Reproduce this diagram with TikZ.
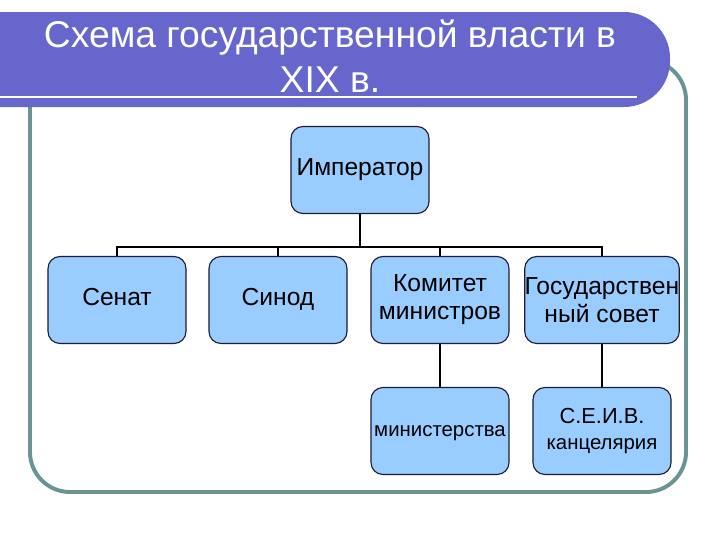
\documentclass[tikz,border=0pt]{standalone}
\usepackage{fontspec}
\setmainfont{Liberation Sans}
\usepackage{xcolor}
\usetikzlibrary{positioning}
\definecolor{barblue}{HTML}{6666CC}
\definecolor{boxblue}{HTML}{99CCFF}
\definecolor{boxline}{HTML}{1C1C38}
\definecolor{frameteal}{HTML}{6A9494}
\tikzset{
  font=\fontsize{17.5}{20}\selectfont,         % body text, Arial-like
  orgbox/.style   = {rectangle, draw=boxline, fill=boxblue, line width=0.8pt,
                     rounded corners=0.3cm, minimum width=3.45cm,
                     minimum height=2.175cm, inner sep=0pt, align=center},
  small/.style    = {font=\fontsize{14.5}{19}\selectfont},
  link/.style     = {line width=1.4pt, black}
}

\begin{document}
\begin{tikzpicture}[x=0.025cm, y=-0.025cm]
  \useasboundingbox[fill=white] (0,0) rectangle (720,540);
  % outer frame
  \draw[frameteal, line width=2.8pt, rounded corners=1cm] (30,60) rectangle (686,492);
  % title bar
  \fill[barblue, rounded corners=1.15cm] (-60,12) rectangle (670,107);
  \draw[white, line width=1.4pt] (0,97) -- (637,97);
  \node[white, font=\fontsize{26.5}{32}\selectfont, align=center] (title) at (330,56)
    {Схема государственной власти в\\XIX в.};
  % boxes
  \node[orgbox] (emp)    at (360,170) {\strut Император};
  \node[orgbox] (senat)  at (117,300) {\strut Сенат};
  \node[orgbox] (sinod)  at (278,300) {\strut Синод};
  \node[orgbox] (komitet) at (440,300) {Комитет\\министров};
  \node[orgbox] (sovet)  at (602,300) {Государствен\\ный совет};
  \node[orgbox, small] (minist) at (440,431) {\strut министерства};
  \node[orgbox, small] (kanc)   at (602,431) {{\fontsize{15.5}{19}\selectfont С.Е.И.В.}\\канцелярия};
  % connectors
  \coordinate (bus) at (360,247);
  \draw[link] (emp.south) -- (bus);
  \foreach \b in {senat, sinod, komitet, sovet}
    \draw[link] (bus) -| (\b.north);
  \draw[link] (komitet.south) -- (minist.north);
  \draw[link] (sovet.south) -- (kanc.north);
\end{tikzpicture}
\end{document}
